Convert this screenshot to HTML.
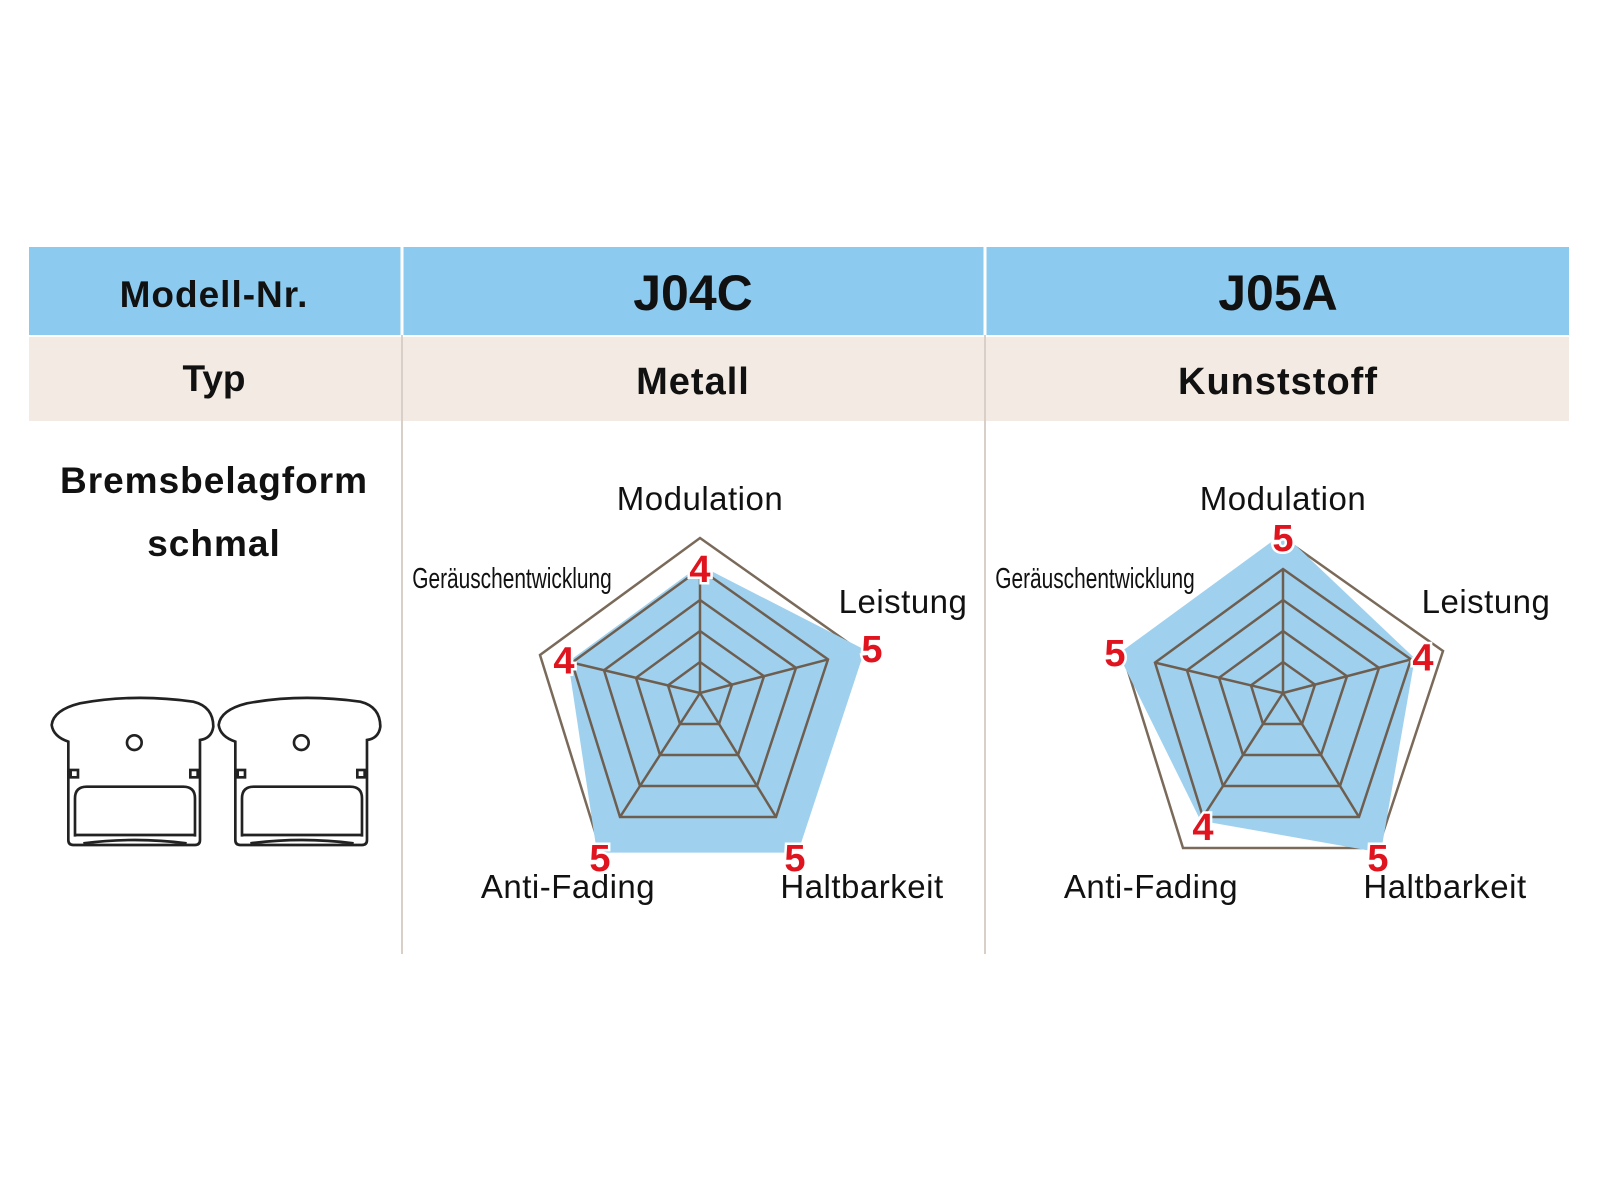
<!DOCTYPE html>
<html><head><meta charset="utf-8"><style>
body{margin:0;width:1600px;height:1200px;background:#fff;overflow:hidden}
svg{display:block}
text{font-family:"Liberation Sans",sans-serif}
</style></head><body>
<svg width="1600" height="1200" viewBox="0 0 1600 1200">
<rect x="29" y="247" width="1540" height="88" fill="#8ccbef"/>
<rect x="29" y="337" width="1540" height="84" fill="#f3ebe3"/>
<line x1="402" y1="247" x2="402" y2="954" stroke="#d8d0c8" stroke-width="2"/>
<line x1="985" y1="247" x2="985" y2="954" stroke="#d8d0c8" stroke-width="2"/>
<line x1="402" y1="247" x2="402" y2="335" stroke="#fff" stroke-width="3"/>
<line x1="985" y1="247" x2="985" y2="335" stroke="#fff" stroke-width="3"/>
<g font-weight="bold" fill="#111" text-anchor="middle">
<text x="214" y="307" font-size="37" letter-spacing="1">Modell-Nr.</text>
<text x="693" y="310" font-size="50">J04C</text>
<text x="1278" y="310" font-size="50">J05A</text>
<text x="214" y="391" font-size="37">Typ</text>
<text x="693" y="394" font-size="38" letter-spacing="1">Metall</text>
<text x="1278" y="394" font-size="38" letter-spacing="1">Kunststoff</text>
<text x="214" y="493" font-size="37" letter-spacing="1">Bremsbelagform</text>
<text x="214" y="556" font-size="37" letter-spacing="1">schmal</text>
</g>
<g fill="none" stroke="#222" stroke-width="8" transform="translate(40,670) scale(0.3333)">
<path d="M85,215 Q40,200 35,165 Q40,120 120,100 Q280,70 460,95 Q520,110 520,170 Q515,205 480,210 L480,510 Q480,525 465,525 L100,525 Q85,525 85,510 Z"/>
<path d="M105,500 L105,385 Q105,350 140,350 L430,350 Q465,350 465,385 L465,500 M105,495 L465,495 M130,520 Q285,500 440,520"/>
<circle cx="283" cy="218" r="22"/>
<rect x="92" y="300" width="22" height="22"/><rect x="451" y="300" width="22" height="22"/>
</g>
<g fill="none" stroke="#222" stroke-width="8" transform="translate(207,670) scale(0.3333)">
<path d="M85,215 Q40,200 35,165 Q40,120 120,100 Q280,70 460,95 Q520,110 520,170 Q515,205 480,210 L480,510 Q480,525 465,525 L100,525 Q85,525 85,510 Z"/>
<path d="M105,500 L105,385 Q105,350 140,350 L430,350 Q465,350 465,385 L465,500 M105,495 L465,495 M130,520 Q285,500 440,520"/>
<circle cx="283" cy="218" r="22"/>
<rect x="92" y="300" width="22" height="22"/><rect x="451" y="300" width="22" height="22"/>
</g>
<g id="c1"></g><g id="c2"></g>
</svg>
<script>
var V=[[0,-155],[160,-42],[95,155],[-100,155],[-160,-38]];
function chart(id,cx,cy,vals){
 var g=document.getElementById(id),s='';
 function P(f,i){return (cx+V[i][0]*f).toFixed(1)+','+(cy+V[i][1]*f).toFixed(1);}
 function poly(fs){return V.map(function(_,i){return P(typeof fs=='number'?fs:fs[i],i)}).join(' ');}
 s+='<polygon points="'+poly(1)+'" fill="none" stroke="#7a6a5a" stroke-width="2.5"/>';
 s+='<polygon points="'+poly(vals.map(function(v){return v/5*1.03}))+'" fill="#9fd1ef"/>';
 for(var k=1;k<=4;k++) s+='<polygon points="'+poly(k/5)+'" fill="none" stroke="#6e5e50" stroke-width="2.5"/>';
 for(var i=0;i<5;i++) s+='<line x1="'+cx+'" y1="'+cy+'" x2="'+P(0.8,i).split(',')[0]+'" y2="'+P(0.8,i).split(',')[1]+'" stroke="#6e5e50" stroke-width="2.5"/>';
 var lo=[[0,-2],[12,-4],[0,8],[0,8],[-8,-4]];
 for(var i=0;i<5;i++){var f=vals[i]/5;var x=cx+V[i][0]*f+lo[i][0],y=cy+V[i][1]*f+lo[i][1]+15;
  s+='<text x="'+x+'" y="'+y+'" text-anchor="middle" font-size="38" font-weight="bold" fill="#e0141e" stroke="#fff" stroke-width="5" paint-order="stroke">'+vals[i]+'</text>';}
 s+='<text x="'+cx+'" y="510" text-anchor="middle" font-size="33" fill="#111" letter-spacing="0.5">Modulation</text>';
 s+='<text x="'+(cx+203)+'" y="613" text-anchor="middle" font-size="33" fill="#111" letter-spacing="0.5">Leistung</text>';
 s+='<text x="'+(cx-188)+'" y="588" text-anchor="middle" font-size="29" fill="#111" transform="translate('+(cx-188)+',0) scale(0.72,1) translate('+(-(cx-188))+',0)">Geräuschentwicklung</text>';
 s+='<text x="'+(cx-132)+'" y="898" text-anchor="middle" font-size="33" fill="#111" letter-spacing="0.5">Anti-Fading</text>';
 s+='<text x="'+(cx+162)+'" y="898" text-anchor="middle" font-size="33" fill="#111" letter-spacing="0.5">Haltbarkeit</text>';
 g.innerHTML=s;
}
chart('c1',700,693,[4,5,5,5,4]);
chart('c2',1283,693,[5,4,5,4,5]);
</script>
</body></html>
